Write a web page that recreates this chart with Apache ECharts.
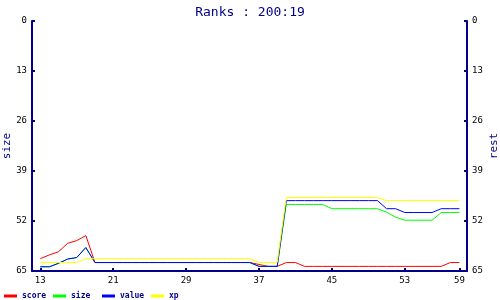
<!DOCTYPE html>
<html>
<head>
<meta charset="utf-8">
<script src="https://cdn.jsdelivr.net/npm/echarts@6/dist/echarts.min.js"></script>
<style>
html,body{margin:0;padding:0;background:#fff;}
#chart{width:500px;height:300px;}
</style>
</head>
<body>
<div id="chart"></div>
<script>
var titleText = 'Ranks : 200:19';
var days = [13,14,15,16,17,18,19,20,21,22,23,24,25,26,27,28,29,30,31,32,33,34,35,36,37,38,39,40,41,42,43,44,45,46,47,48,49,50,51,52,53,54,55,56,57,58,59];
var xTickValues = [13,21,29,37,45,53,59];
var yTickValues = [0,13,26,39,52,65];
var seriesNames = ['score','size','value','xp'];
var score = [61.8,60.8,60.0,57.8,57.1,55.8,
  62.8,62.8,62.8,62.8,62.8,62.8,62.8,62.8,62.8,62.8,62.8,62.8,62.8,62.8,62.8,62.8,62.8,62.8,
  63.3,63.8,63.8,62.8,62.8,
  63.8,63.8,63.8,63.8,63.8,63.8,63.8,63.8,63.8,63.8,63.8,63.8,63.8,63.8,63.8,63.8,
  62.8,62.8];
var size = [63.9,63.9,63.0,61.9,61.5,58.9,
  62.8,62.8,62.8,62.8,62.8,62.8,62.8,62.8,62.8,62.8,62.8,62.8,62.8,62.8,62.8,62.8,62.8,62.8,
  63.8,63.8,63.8,
  47.7,47.7,47.7,47.7,47.7,
  48.8,48.8,48.8,48.8,48.8,48.8,
  49.7,51.0,51.8,51.8,51.8,51.8,
  49.8,49.8,49.8];
var value = [63.9,63.9,63.0,61.9,61.5,58.9,
  62.8,62.8,62.8,62.8,62.8,62.8,62.8,62.8,62.8,62.8,62.8,62.8,62.8,62.8,62.8,62.8,62.8,62.8,
  63.8,63.8,63.8,
  46.7,46.7,46.7,46.7,46.7,46.7,46.7,46.7,46.7,46.7,46.7,
  48.8,48.8,
  49.8,49.8,49.8,49.8,
  48.8,48.8,48.8];
var xp = [62.8,62.8,62.8,62.8,62.8,
  61.8,61.8,61.8,61.8,61.8,61.8,61.8,61.8,61.8,61.8,61.8,61.8,61.8,61.8,61.8,61.8,61.8,61.8,61.8,
  62.8,62.8,62.8,
  45.9,45.9,45.9,45.9,45.9,45.9,45.9,45.9,45.9,45.9,45.9,
  46.7,46.7,46.7,46.7,46.7,46.7,46.7,46.7,46.7];
var seriesValues = [score, size, value, xp];
var seriesColors = ['#ff0000','#00ff00','#0000ff','#ffff00'];

var navy = '#00008b';
var mono = 'DejaVu Sans Mono';

function pairs(arr){ return days.map(function(d,i){ return [d, arr[i]]; }); }

var legendLefts = [4, 53, 102, 151];
var legends = seriesNames.map(function(n, i){
  return {
    data: [n], left: legendLefts[i], bottom: 0, padding: 0, orient: 'horizontal',
    icon: 'rect', itemWidth: 13, itemHeight: 3, selectedMode: false,
    textStyle: {fontFamily: mono, fontSize: 8, color: navy, fontWeight: 'bold'}
  };
});

function yAx(pos, name, gap){
  return {
    type: 'value', position: pos, inverse: true, min: 0, max: 65, interval: 13,
    name: name, nameLocation: 'middle', nameRotate: 90, nameGap: gap, nameMoveOverlap: false,
    nameTextStyle: {fontFamily: mono, fontSize: 11, color: navy},
    axisLine: {show: true, lineStyle: {color: navy, width: 2}},
    axisTick: {show: true, inside: true, length: 3, lineStyle: {color: navy, width: 2}},
    axisLabel: {fontFamily: mono, fontSize: 9, color: '#000', margin: 5},
    splitLine: {show: false}
  };
}

var chart = echarts.init(document.getElementById('chart'), null, {renderer: 'canvas'});
chart.setOption({
  animation: false,
  backgroundColor: '#fff',
  title: {text: titleText, left: 'center', top: 1,
    textStyle: {fontFamily: mono, fontSize: 13, fontWeight: 'normal', color: navy}},
  legend: legends,
  grid: {left: 32, right: 33, top: 21, bottom: 29, containLabel: false, outerBoundsMode: 'none'},
  xAxis: {
    type: 'value', min: 12.09, max: 59.83,
    axisLine: {show: true, onZero: false, lineStyle: {color: navy, width: 2}},
    axisTick: {show: true, inside: true, length: 3, customValues: xTickValues, lineStyle: {color: navy, width: 2}},
    axisLabel: {customValues: xTickValues, fontFamily: mono, fontSize: 9, color: '#000', margin: 5},
    splitLine: {show: false}
  },
  yAxis: [yAx('left','size',19), yAx('right','rest',22)],
  series: seriesNames.map(function(n, i){
    return {
      name: n, type: 'line', yAxisIndex: 0, data: pairs(seriesValues[i]),
      showSymbol: false, symbol: 'none', color: seriesColors[i],
      lineStyle: {width: 1, color: seriesColors[i]}
    };
  })
});
</script>
</body>
</html>
